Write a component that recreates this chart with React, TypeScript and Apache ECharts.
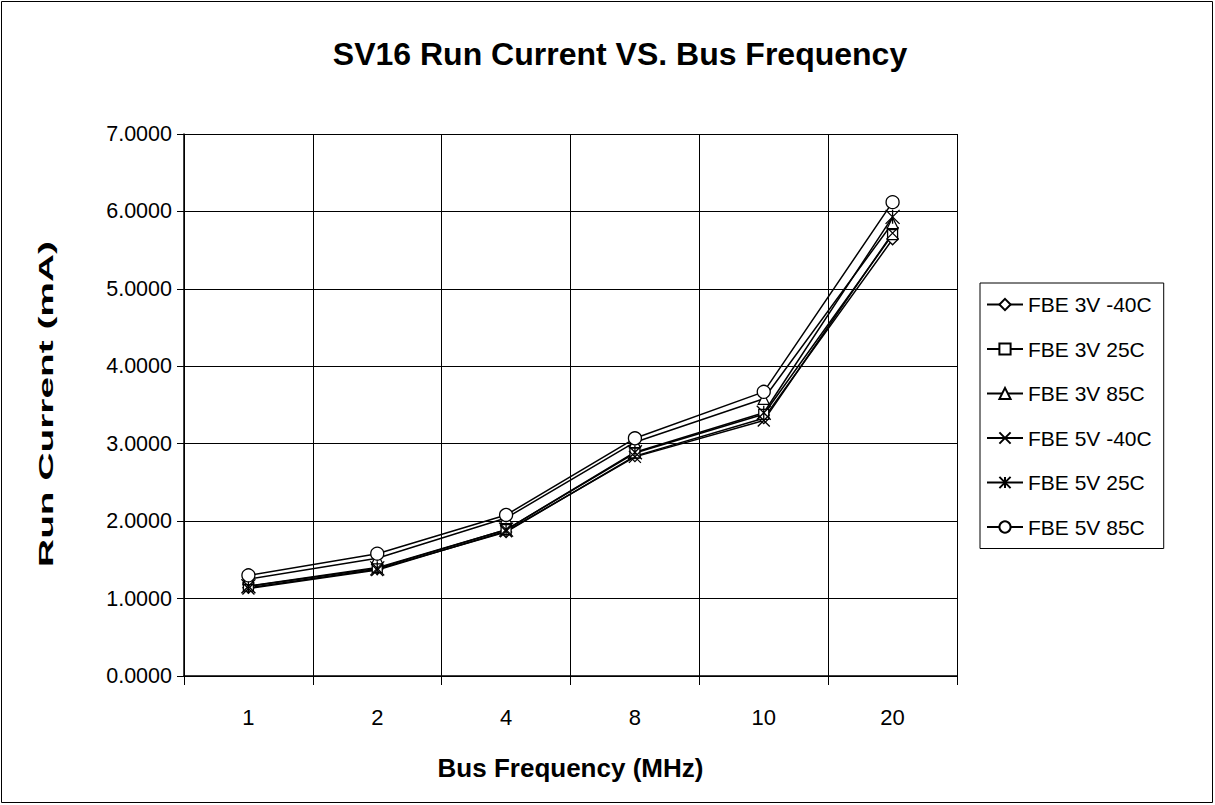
import React, { useEffect, useRef } from "react";
import * as echarts from "echarts";

const categories = ["1", "2", "4", "8", "10", "20"];
const seriesNames = ["FBE 3V -40C", "FBE 3V 25C", "FBE 3V 85C", "FBE 5V -40C", "FBE 5V 25C", "FBE 5V 85C"];
const fbe3vM40 = [1.14, 1.38, 1.86, 2.84, 3.33, 5.64];
const fbe3v25 = [1.16, 1.40, 1.89, 2.88, 3.38, 5.70];
const fbe3v85 = [1.25, 1.52, 2.04, 3.02, 3.58, 5.85];
const fbe5vM40 = [1.13, 1.37, 1.87, 2.83, 3.30, 5.72];
const fbe5v25 = [1.16, 1.39, 1.89, 2.89, 3.40, 5.93];
const fbe5v85 = [1.30, 1.58, 2.08, 3.07, 3.67, 6.12];
const yTicks = [0, 1, 2, 3, 4, 5, 6, 7];

const seriesData = [fbe3vM40, fbe3v25, fbe3v85, fbe5vM40, fbe5v25, fbe5v85];
const symbols = [
  "diamond",
  "rect",
  "triangle",
  "path://M0,0L10,10M10,0L0,10",
  "path://M0,0L10,10M10,0L0,10M5,0L5,10",
  "circle",
];
const symbolSizes = [11, 10, 11, 12, 14, 13];

const FONT = "'Liberation Sans', Arial, sans-serif";

export default function App() {
  const ref = useRef<HTMLDivElement>(null);
  useEffect(() => {
    const chart = echarts.init(ref.current!, null, { renderer: "svg" });
    chart.setOption({
      animation: false,
      backgroundColor: "#ffffff",
      title: {
        text: "SV16 Run Current VS. Bus Frequency",
        left: 615,
        top: 33,
        textAlign: "center",
        textStyle: { fontFamily: FONT, fontSize: 32, fontWeight: "bold", color: "#000" },
      },
      graphic: [
        {
          type: "rect",
          shape: { x: 1.5, y: 1.5, width: 1211, height: 801 },
          style: { fill: "none", stroke: "#000", lineWidth: 1 },
          silent: true,
        },
        {
          type: "text",
          x: 46,
          y: 404,
          rotation: Math.PI / 2,
          scaleX: 1.85,
          style: {
            text: "Run Current (mA)",
            fontFamily: FONT,
            fontSize: 21,
            fontWeight: "bold",
            fill: "#000",
            textAlign: "center",
            textVerticalAlign: "middle",
          },
          silent: true,
        },
      ],
      legend: {
        orient: "vertical",
        left: 980,
        top: 283,
        padding: [11, 12, 11, 6],
        borderColor: "#000",
        borderWidth: 1,
        itemWidth: 36,
        itemHeight: 14,
        itemGap: 23.5,
        data: seriesNames,
        textStyle: { fontFamily: FONT, fontSize: 21, lineHeight: 14, color: "#000" },
      },
      grid: { left: 184, top: 134, width: 773, height: 542 },
      xAxis: {
        type: "category",
        data: categories,
        boundaryGap: true,
        name: "Bus Frequency (MHz)",
        nameLocation: "middle",
        nameGap: 79,
        nameTextStyle: { fontFamily: FONT, fontSize: 26, fontWeight: "bold", color: "#000" },
        axisLine: { lineStyle: { color: "#000", width: 1.5 } },
        axisTick: { show: true, length: 9, inside: false, lineStyle: { color: "#000" } },
        axisLabel: { fontFamily: FONT, fontSize: 22, color: "#000", margin: 30 },
        splitLine: { show: true, lineStyle: { color: "#000", width: 1 } },
      },
      yAxis: {
        type: "value",
        min: 0,
        max: 7,
        interval: 1,
        axisLine: { show: true, lineStyle: { color: "#000", width: 1.5 } },
        axisTick: { show: true, length: 7, lineStyle: { color: "#000" } },
        axisLabel: {
          fontFamily: FONT,
          fontSize: 21.5,
          color: "#000",
          margin: 12,
          formatter: (v: number) => (yTicks.includes(v) ? v.toFixed(4) : ""),
        },
        splitLine: { show: true, lineStyle: { color: "#000", width: 1 } },
      },
      series: seriesNames.map((name, i) => ({
        name,
        type: "line",
        data: seriesData[i],
        symbol: symbols[i],
        symbolSize: symbolSizes[i],
        showAllSymbol: true,
        lineStyle: { color: "#000", width: 1.5 },
        itemStyle: { color: "#fff", borderColor: "#000", borderWidth: 1.3 },
        emphasis: { disabled: true },
      })),
    });
    return () => chart.dispose();
  }, []);
  return (
    <div
      ref={ref}
      style={{ position: "fixed", left: 0, top: 0, width: 1215, height: 805, background: "#fff" }}
    />
  );
}
